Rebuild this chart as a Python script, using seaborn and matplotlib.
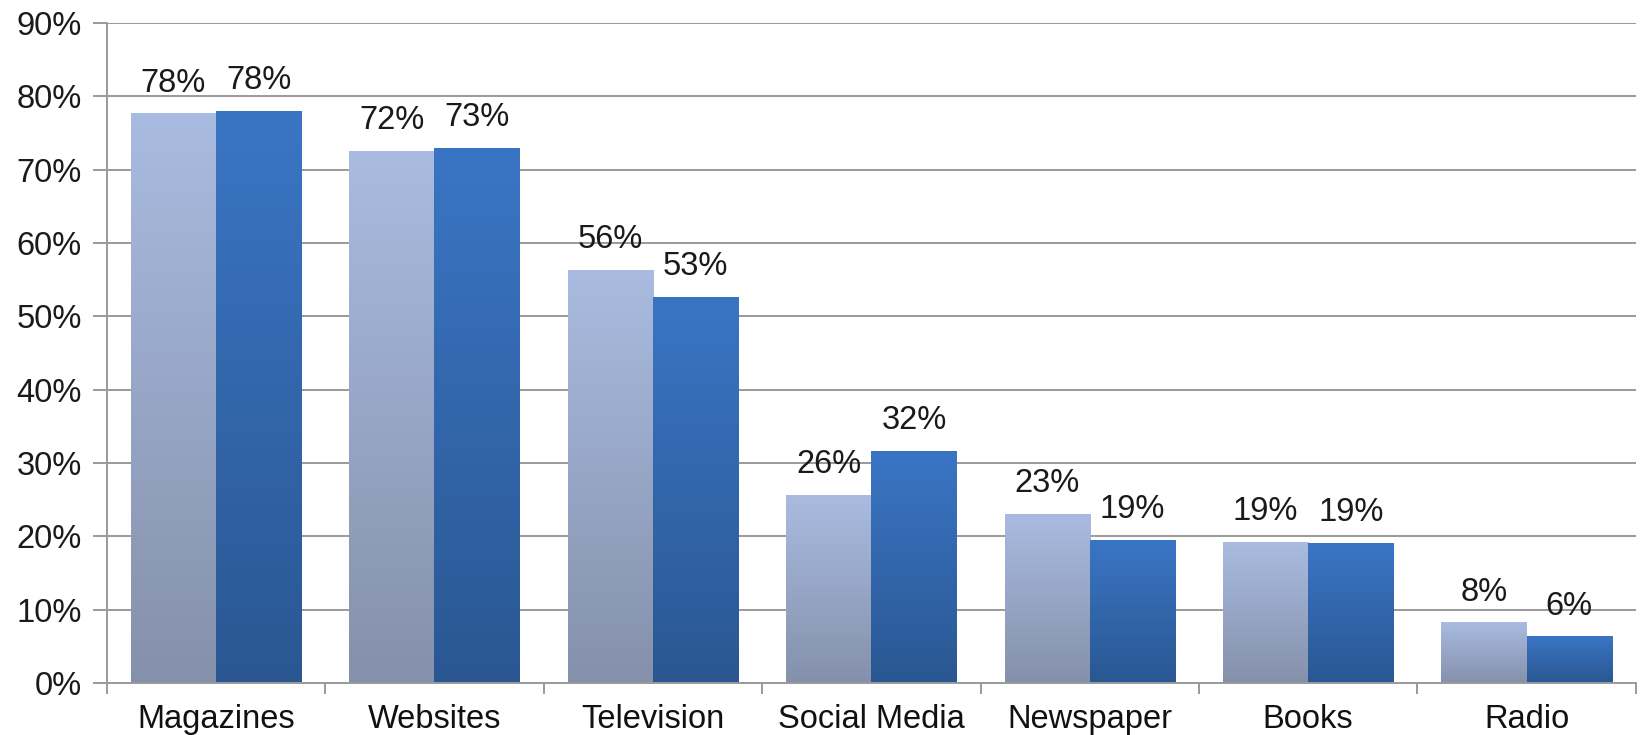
import numpy as np
import pandas as pd
import matplotlib
matplotlib.use("Agg")
import matplotlib.pyplot as plt
from matplotlib.colors import LinearSegmentedColormap
from matplotlib.ticker import FixedLocator, FuncFormatter
import seaborn as sns

# Share of respondents by media channel, two survey groups
categories = ["Magazines", "Websites", "Television", "Social Media",
              "Newspaper", "Books", "Radio"]
group_a = [77.6, 72.5, 56.3, 25.6, 23.0, 19.2, 8.2]
group_b = [77.9, 72.9, 52.6, 31.6, 19.4, 19.0, 6.3]
series_names = ["Group A", "Group B"]
y_ticks = [0, 10, 20, 30, 40, 50, 60, 70, 80, 90]

df = pd.DataFrame({
    "category": categories * 2,
    "value": group_a + group_b,
    "series": [series_names[0]] * len(categories) + [series_names[1]] * len(categories),
})

sns.set_theme(style="white")
plt.rcParams["font.family"] = ["Liberation Sans", "DejaVu Sans"]
FS = 23.5

fig = plt.figure(figsize=(16.44, 7.35), dpi=100)
ax = fig.add_axes([0.065, 0.0707, 0.930, 0.898])

palette = {series_names[0]: "#A6B8DC", series_names[1]: "#3A72BF"}
sns.barplot(data=df, x="category", y="value", hue="series", palette=palette,
            width=0.78, gap=0, legend=False, ax=ax, saturation=1)

# vertical gradients per series (bottom colour -> top colour)
gradients = [
    LinearSegmentedColormap.from_list("ga", ["#8591AB", "#A9BBE0"]),
    LinearSegmentedColormap.from_list("gb", ["#2A5792", "#3A75C4"]),
]
grad = np.linspace(0, 1, 256).reshape(-1, 1)
for cont, cmap in zip(ax.containers, gradients):
    for patch in cont.patches:
        x0, y0 = patch.get_x(), patch.get_y()
        w, h = patch.get_width(), patch.get_height()
        ax.imshow(grad, cmap=cmap, origin="lower", aspect="auto",
                  extent=[x0, x0 + w, y0, y0 + h], zorder=2,
                  interpolation="bilinear")
        patch.set_facecolor("none")
        patch.set_edgecolor("none")
    ax.bar_label(cont, labels=[f"{v:.0f}%" for v in cont.datavalues],
                 padding=11, fontsize=FS, color="#1a1a1a")

n = len(categories)
ax.set_xlim(-0.5, n - 0.5)
ax.set_ylim(0, 90)
ax.yaxis.set_major_locator(FixedLocator(y_ticks))
ax.yaxis.set_major_formatter(FuncFormatter(lambda v, _: f"{v:.0f}%"))
ax.grid(axis="y", color="#9a9a9a", linewidth=1.4, zorder=0)
ax.set_axisbelow(True)

ax.set_xlabel("")
ax.set_ylabel("")
for side in ["top", "right"]:
    ax.spines[side].set_visible(False)
for side in ["left", "bottom"]:
    ax.spines[side].set_color("#9a9a9a")
    ax.spines[side].set_linewidth(1.4)

ax.tick_params(axis="y", which="major", direction="out", length=10, width=1.4,
               color="#9a9a9a", labelsize=FS, labelcolor="#1a1a1a", pad=8, left=True)
ax.set_xticks(np.arange(n))
ax.set_xticks(np.arange(-0.5, n), minor=True)
ax.tick_params(axis="x", which="major", length=0, labelsize=FS,
               labelcolor="#111111", pad=15)
ax.tick_params(axis="x", which="minor", direction="out", length=8, width=1.4,
               color="#9a9a9a", bottom=True)

fig.savefig("out.png", dpi=100, facecolor="white")
